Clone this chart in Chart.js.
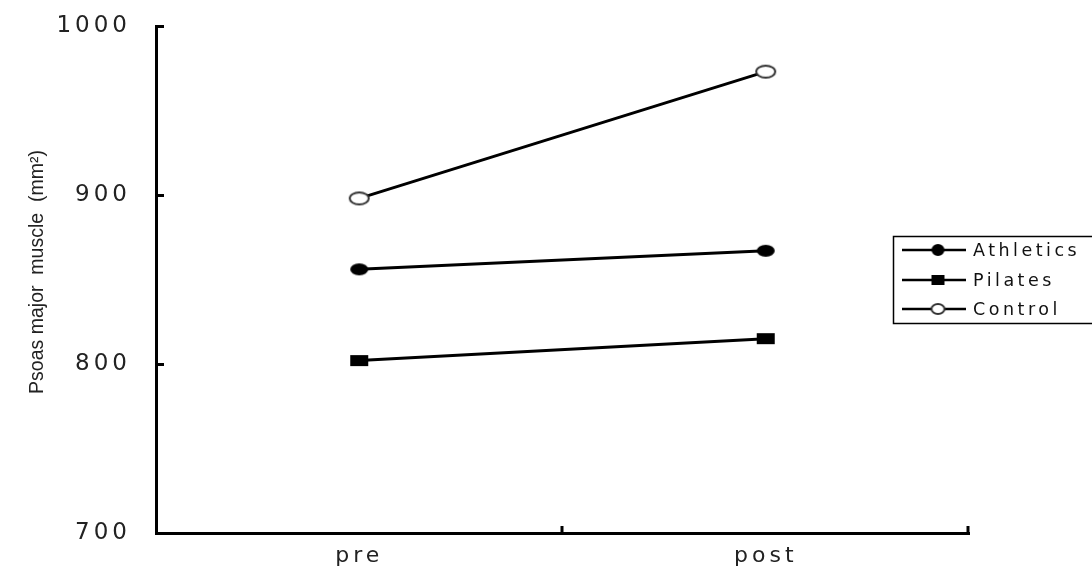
<!DOCTYPE html>
<html>
<head>
<meta charset="utf-8">
<script src="https://cdn.jsdelivr.net/npm/chart.js@4"></script>
<style>
  html, body { margin: 0; padding: 0; background: #fff; }
  #wrap { width: 1092px; height: 569px; }
</style>
</head>
<body>
<div id="wrap"><canvas id="chart" width="1092" height="569"></canvas></div>
<script>
const categories = ['pre', 'post'];
const athletics = [856, 867];
const pilates = [802, 815];
const control = [898, 973];
const yTicks = [700, 800, 900, 1000];
const seriesNames = ['Athletics', 'Pilates', 'Control'];

// marker images (the reference markers are slightly squashed ellipses)
function makeMarker(kind, w, h) {
    const c = document.createElement('canvas');
    c.width = w + 4;
    c.height = h + 4;
    const g = c.getContext('2d');
    g.translate(c.width / 2, c.height / 2);
    if (kind === 'rect') {
        g.fillStyle = '#000';
        g.fillRect(-w / 2, -h / 2, w, h);
    } else if (kind === 'dot') {
        g.fillStyle = '#000';
        g.beginPath();
        g.ellipse(0, 0, w / 2, h / 2, 0, 0, Math.PI * 2);
        g.fill();
    } else {
        g.fillStyle = '#fff';
        g.strokeStyle = '#333';
        g.lineWidth = 2;
        g.beginPath();
        g.ellipse(0, 0, w / 2 - 1, h / 2 - 1, 0, 0, Math.PI * 2);
        g.fill();
        g.stroke();
    }
    return c;
}

const markers = [makeMarker('dot', 18, 12), makeMarker('rect', 18, 11), makeMarker('ring', 21, 14)];
const legendMarkers = [makeMarker('dot', 13, 12), makeMarker('rect', 13, 10), makeMarker('ring', 15, 12)];

const tickFont = '"DejaVu Sans", Verdana, sans-serif';

const extras = {
    id: 'extras',
    beforeDraw(chart) {
        chart.ctx.letterSpacing = '4px';
    },
    afterDraw(chart) {
        const ctx = chart.ctx;
        const x = chart.scales.x;
        const y = chart.scales.y;
        ctx.save();
        ctx.letterSpacing = '0px';
        ctx.strokeStyle = '#000';
        ctx.lineWidth = 3;
        // inward ticks on y axis
        yTicks.forEach(v => {
            const py = Math.round(y.getPixelForValue(v)) + 0.5;
            ctx.beginPath();
            ctx.moveTo(x.left, py);
            ctx.lineTo(x.left + 8, py);
            ctx.stroke();
        });
        // inward ticks on x axis at category boundaries
        const band = (x.right - x.left) / categories.length;
        for (let i = 1; i <= categories.length; i++) {
            const px = Math.round(x.left + band * i) - 1;
            ctx.beginPath();
            ctx.moveTo(px, y.bottom);
            ctx.lineTo(px, y.bottom - 7);
            ctx.stroke();
        }

        // y axis title
        ctx.fillStyle = '#222';
        ctx.font = '19.5px "Liberation Sans", Arial, sans-serif';
        ctx.textAlign = 'center';
        ctx.textBaseline = 'middle';
        ctx.translate(38, 272);
        ctx.rotate(-Math.PI / 2);
        ctx.fillText('Psoas major  muscle  (mm\u00B2)', 0, 0);
        ctx.restore();

        // legend
        ctx.save();
        ctx.strokeStyle = '#000';
        ctx.lineWidth = 1.5;
        ctx.strokeRect(893.5, 236.5, 230, 87);
        const rows = [250, 280, 309];
        chart.data.datasets.forEach((ds, i) => {
            const ly = rows[i];
            ctx.lineWidth = 2.5;
            ctx.beginPath();
            ctx.moveTo(902, ly);
            ctx.lineTo(966, ly);
            ctx.stroke();
            const m = legendMarkers[i];
            ctx.drawImage(m, 938 - m.width / 2, ly - m.height / 2);
            ctx.fillStyle = '#111';
            ctx.font = '17.5px ' + tickFont;
            ctx.letterSpacing = '3.5px';
            ctx.textAlign = 'left';
            ctx.textBaseline = 'middle';
            ctx.fillText(ds.label, 973, ly + 1);
        });
        ctx.restore();
    }
};

new Chart(document.getElementById('chart').getContext('2d'), {
    type: 'line',
    data: {
        labels: categories,
        datasets: [athletics, pilates, control].map((vals, i) => ({
            label: seriesNames[i],
            data: vals,
            borderColor: '#000',
            borderWidth: 3,
            pointStyle: markers[i],
            pointRadius: 9,
            fill: false,
            tension: 0
        }))
    },
    options: {
        responsive: false,
        animation: false,
        layout: { padding: { top: 26, right: 123, left: 0, bottom: 0 } },
        plugins: {
            legend: { display: false },
            tooltip: { enabled: false }
        },
        scales: {
            x: {
                offset: true,
                grid: { display: false, drawTicks: false },
                border: { display: true, color: '#000', width: 3 },
                ticks: {
                    color: '#222',
                    font: { family: tickFont, size: 22 },
                    padding: 10
                },
                afterFit(scale) {
                    scale.height = 36;
                    scale.paddingLeft = 0;
                    scale.paddingRight = 0;
                }
            },
            y: {
                min: 700,
                max: 1000,
                afterBuildTicks(scale) { scale.ticks = yTicks.map(v => ({ value: v })); },
                grid: { display: false, drawTicks: false },
                border: { display: true, color: '#000', width: 3 },
                ticks: {
                    color: '#222',
                    font: { family: tickFont, size: 23 },
                    padding: 25,
                    callback: v => String(v)
                },
                afterFit(scale) {
                    scale.width = 156;
                    scale.paddingTop = 0;
                    scale.paddingBottom = 0;
                }
            }
        }
    },
    plugins: [extras]
});
</script>
</body>
</html>
